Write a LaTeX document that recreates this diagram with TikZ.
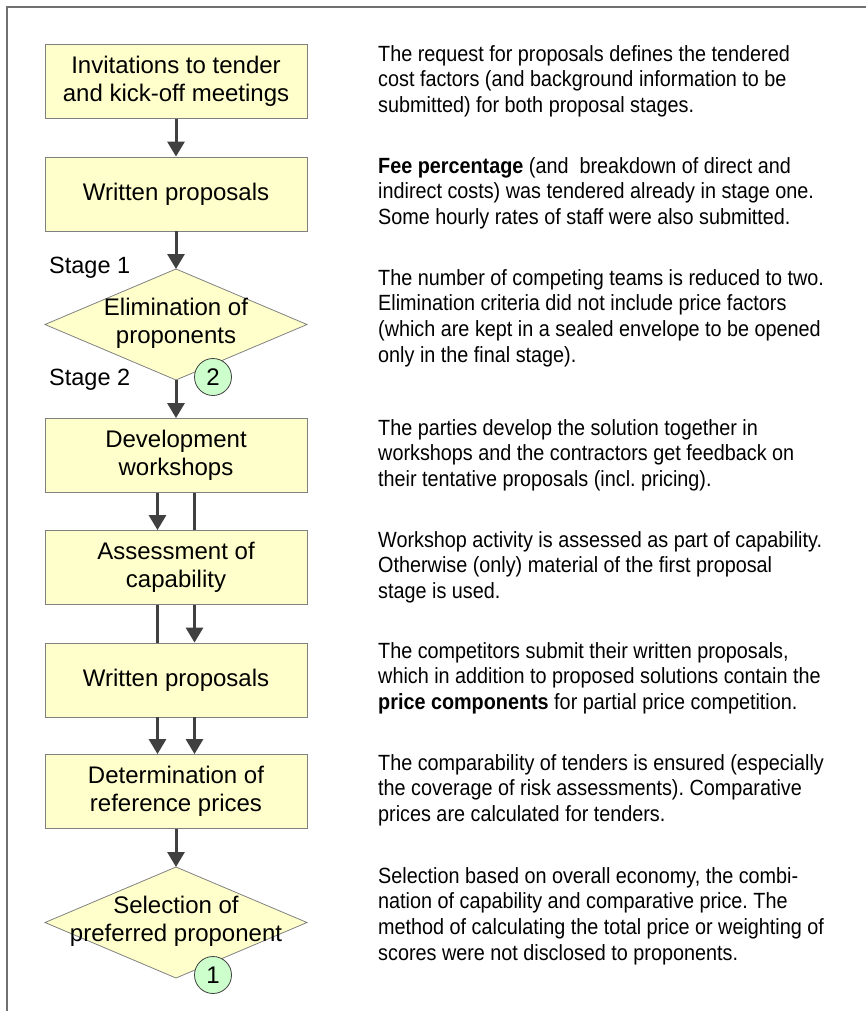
\documentclass[tikz,border=0pt]{standalone}
\usepackage{fontspec}
\setmainfont{Liberation Sans}
\newfontfamily\notefont[FakeStretch=0.9]{Liberation Sans}
\usetikzlibrary{arrows.meta,calc}
\frenchspacing

\definecolor{boxfill}{HTML}{FFFFCC}
\definecolor{boxline}{HTML}{808080}
\definecolor{arrowgray}{HTML}{404040}
\definecolor{tagfill}{HTML}{CCFFCC}
\definecolor{framegray}{HTML}{707070}

\newcommand{\firststrut}{\rule{0pt}{18pt}}

\tikzset{
  stepbox/.style={draw=boxline, line width=0.8pt, fill=boxfill,
    minimum width=262pt, minimum height=74pt, inner sep=0pt,
    align=center, font=\fontsize{24}{28}\selectfont},
  flowarrow/.style={draw=arrowgray, line width=3pt,
    -{Triangle[length=15pt,width=17pt]}},
  flowline/.style={draw=arrowgray, line width=3pt},
  decision/.style={draw=boxline, line width=0.8pt, fill=boxfill},
  decisiontext/.style={align=center, font=\fontsize{24}{28}\selectfont, inner sep=0pt},
  tag/.style={circle, draw=arrowgray, line width=0.8pt, fill=tagfill,
    minimum size=37pt, inner sep=0pt, font=\fontsize{24}{24}\selectfont},
  stagelabel/.style={anchor=west, inner sep=0pt, font=\fontsize{23.5}{25}\selectfont},
  note/.style={anchor=north west, inner sep=0pt, align=left,
    font=\notefont\fontsize{22}{25.7}\selectfont},
}

\begin{document}
\begin{tikzpicture}[x=1pt, y=-1pt]
\useasboundingbox (0,0) rectangle (866,1011);

% outer frame (top and left edges)
\draw[framegray, line width=1.5pt] (7,1011) -- (7,7) -- (866,7);

% process boxes
\node[stepbox] (invite) at (176,81.5) {Invitations to tender\\and kick-off meetings};
\node[stepbox] (written1) at (176,194) {Written proposals};
\node[stepbox] (workshops) at (176,455.5) {Development\\workshops};
\node[stepbox] (assess) at (176,567.5) {Assessment of\\capability};
\node[stepbox] (written2) at (176,680) {Written proposals};
\node[stepbox] (refprice) at (176,791.5) {Determination of\\reference prices};

% decisions
\coordinate (elimN) at (176,269);
\coordinate (elimS) at (176,380);
\draw[decision] (45,324.5) -- (elimN) -- (307,324.5) -- (elimS) -- cycle;
\node[decisiontext] (elimtext) at (176,323) {Elimination of\\proponents};

\coordinate (selN) at (176,867);
\coordinate (selS) at (176,978);
\draw[decision] (45,922.5) -- (selN) -- (307,922.5) -- (selS) -- cycle;
\node[decisiontext] (seltext) at (176,921) {Selection of\\preferred proponent};

% numbered tags
\node[tag] (tagtwo) at (213,377) {2};
\node[tag] (tagone) at (213,975) {1};

% stage labels
\node[stagelabel] (stageone) at (49,268) {Stage 1};
\node[stagelabel] (stagetwo) at (49,380) {Stage 2};

% connectors
\draw[flowarrow] (invite.south) -- (written1.north);
\draw[flowarrow] (written1.south) -- (elimN);
\draw[flowarrow] (elimS) -- (workshops.north);

\draw[flowarrow] ([xshift=-18.5pt]workshops.south) -- ([xshift=-18.5pt]assess.north);
\draw[flowline]  ([xshift=18.5pt]workshops.south) -- ([xshift=18.5pt]assess.north);

\draw[flowline]  ([xshift=-18.5pt]assess.south) -- ([xshift=-18.5pt]written2.north);
\draw[flowarrow] ([xshift=18.5pt]assess.south) -- ([xshift=18.5pt]written2.north);

\draw[flowarrow] ([xshift=-18.5pt]written2.south) -- ([xshift=-18.5pt]refprice.north);
\draw[flowarrow] ([xshift=18.5pt]written2.south) -- ([xshift=18.5pt]refprice.north);

\draw[flowarrow] (refprice.south) -- (selN);

% explanatory notes
\node[note] (noteA) at (378,43) {\firststrut The request for proposals defines the tendered\\
cost factors (and background information to be\\
submitted) for both proposal stages.};
\node[note] (noteB) at (378,155) {\firststrut\textbf{Fee percentage} (and\ \ breakdown of direct and\\
indirect costs) was tendered already in stage one.\\
Some hourly rates of staff were also submitted.};
\node[note] (noteC) at (378,267) {\firststrut The number of competing teams is reduced to two.\\
Elimination criteria did not include price factors\\
(which are kept in a sealed envelope to be opened\\
only in the final stage).};
\node[note] (noteD) at (378,417) {\firststrut The parties develop the solution together in\\
workshops and the contractors get feedback on\\
their tentative proposals (incl. pricing).};
\node[note] (noteE) at (378,529) {\firststrut Workshop activity is assessed as part of capability.\\
Otherwise (only) material of the first proposal\\
stage is used.};
\node[note] (noteF) at (378,640) {\firststrut The competitors submit their written proposals,\\
which in addition to proposed solutions contain the\\
\textbf{price components} for partial price competition.};
\node[note] (noteG) at (378,752) {\firststrut The comparability of tenders is ensured (especially\\
the coverage of risk assessments). Comparative\\
prices are calculated for tenders.};
\node[note] (noteH) at (378,865) {\firststrut Selection based on overall economy, the combi-\\
nation of capability and comparative price. The\\
method of calculating the total price or weighting of\\
scores were not disclosed to proponents.};
\end{tikzpicture}
\end{document}
